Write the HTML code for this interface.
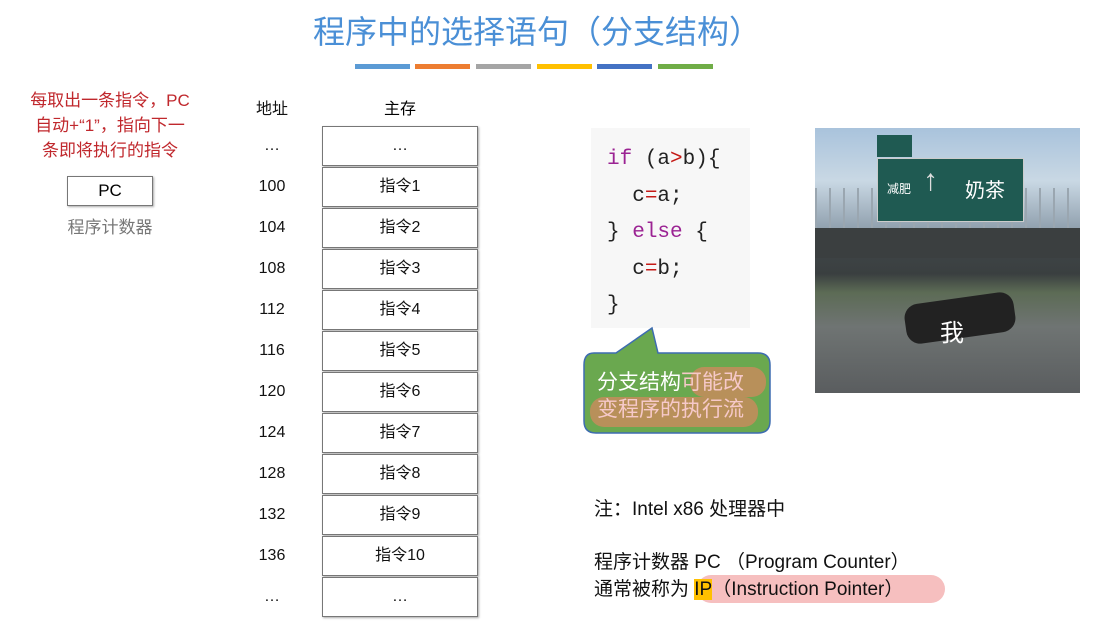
<!DOCTYPE html>
<html><head><meta charset="utf-8"><style>
body{margin:0;width:1120px;height:625px;background:#fff;position:relative;overflow:hidden;font-family:"Liberation Sans","Noto Sans CJK SC",sans-serif;}
.a{position:absolute;}
.cell{position:absolute;left:322px;width:154px;height:38px;border:1px solid #777;box-shadow:1px 1px 2px #aaa;background:#fff;font-size:16px;text-align:center;line-height:38px;color:#111}
.ad{position:absolute;left:250px;width:44px;text-align:center;font-size:16px;color:#111}
.bar{position:absolute;top:64px;height:5px;width:55px}
.code{font-family:"Liberation Mono",monospace;font-size:21px;color:#222;line-height:36.5px}
.k{color:#9b2393}.r{color:#c41a16}
</style></head><body>
<div class="a" style="left:0;width:1074px;top:7px;text-align:center;font-size:32px;color:#4a8fd6">程序中的选择语句（分支结构）</div>
<div class="bar" style="left:355px;background:#5b9bd5"></div>
<div class="bar" style="left:415px;background:#ed7d31"></div>
<div class="bar" style="left:476px;background:#a5a5a5"></div>
<div class="bar" style="left:537px;background:#ffc000"></div>
<div class="bar" style="left:597px;background:#4472c4"></div>
<div class="bar" style="left:658px;background:#70ad47"></div>

<div class="a" style="left:5px;width:210px;top:88px;text-align:center;font-size:17px;line-height:25px;color:#c0282d">每取出一条指令，PC<br>自动+“1”，指向下一<br>条即将执行的指令</div>
<div class="a" style="left:67px;top:176px;width:84px;height:28px;border:1px solid #777;box-shadow:1px 1px 2px #aaa;text-align:center;line-height:28px;font-size:17px">PC</div>
<div class="a" style="left:40px;width:140px;top:213px;text-align:center;font-size:17px;color:#777">程序计数器</div>

<div class="ad" style="top:95px">地址</div>
<div class="a" style="left:322px;width:156px;top:95px;text-align:center;font-size:16px">主存</div>

<div class="ad" style="top:137px">…</div><div class="cell" style="top:126px">…</div>
<div class="ad" style="top:178px">100</div><div class="cell" style="top:167px">指令1</div>
<div class="ad" style="top:219px">104</div><div class="cell" style="top:208px">指令2</div>
<div class="ad" style="top:260px">108</div><div class="cell" style="top:249px">指令3</div>
<div class="ad" style="top:301px">112</div><div class="cell" style="top:290px">指令4</div>
<div class="ad" style="top:342px">116</div><div class="cell" style="top:331px">指令5</div>
<div class="ad" style="top:383px">120</div><div class="cell" style="top:372px">指令6</div>
<div class="ad" style="top:424px">124</div><div class="cell" style="top:413px">指令7</div>
<div class="ad" style="top:465px">128</div><div class="cell" style="top:454px">指令8</div>
<div class="ad" style="top:506px">132</div><div class="cell" style="top:495px">指令9</div>
<div class="ad" style="top:547px">136</div><div class="cell" style="top:536px">指令10</div>
<div class="ad" style="top:588px">…</div><div class="cell" style="top:577px">…</div>

<div class="a code" style="left:591px;top:128px;width:159px;height:200px;background:#f7f7f7;padding:0 0 0 16px;box-sizing:border-box;padding-top:14px">
<div><span class="k">if</span> (a<span class="r">&gt;</span>b){</div>
<div>&nbsp;&nbsp;c<span class="r">=</span>a;</div>
<div>} <span class="k">else</span> {</div>
<div>&nbsp;&nbsp;c<span class="r">=</span>b;</div>
<div>}</div>
</div>
<svg class="a" style="left:580px;top:325px" width="200" height="115">
<path d="M14 28 L36 28 L72 3 L78 28 L178 28 Q190 28 190 40 L190 96 Q190 108 178 108 L16 108 Q4 108 4 96 L4 40 Q4 28 14 28 Z" fill="#6aa84f" stroke="#3d6cb0" stroke-width="1.5"/>
<rect x="110" y="42" width="76" height="30" rx="14" fill="#b8905a"/>
<rect x="10" y="72" width="168" height="30" rx="14" fill="#b8905a"/>
</svg>
<div class="a" style="left:597px;top:369px;font-size:21px;line-height:27px;color:#fff">分支结构<span style="color:#f6c9c9">可能改</span><br><span style="color:#f6c9c9">变程序的执行流</span></div>

<div class="a" style="left:815px;top:128px;width:265px;height:265px;background:linear-gradient(#a9c3dc 0%,#c9d8e4 20%,#8a9aa8 40%,#3f4547 45%,#3a3f40 55%,#5c6b55 62%,#6f7473 75%,#5a5d5f 100%);overflow:hidden">
<div class="a" style="left:0;top:60px;width:265px;height:40px;background:repeating-linear-gradient(90deg,#9aa6b0 0 2px,transparent 2px 14px)"></div>
<div class="a" style="left:0;top:100px;width:265px;height:30px;background:#3b3f40"></div>
<div class="a" style="left:62px;top:30px;width:145px;height:62px;background:#1f5a52;border:1px solid #ccc"></div>
<div class="a" style="left:62px;top:7px;width:35px;height:22px;background:#1f5a52"></div>
<div class="a" style="left:72px;top:52px;font-size:12px;color:#fff">减肥</div>
<div class="a" style="left:108px;top:36px;font-size:30px;color:#ddd">↑</div>
<div class="a" style="left:150px;top:46px;font-size:20px;color:#fff">奶茶</div>
<div class="a" style="left:90px;top:170px;width:110px;height:40px;background:#222;border-radius:14px;transform:rotate(-8deg)"></div>
<div class="a" style="left:125px;top:185px;font-size:24px;color:#fff">我</div>
</div>

<div class="a" style="left:594px;top:494px;font-size:19px;color:#111">注：Intel x86 处理器中</div>
<div class="a" style="left:697px;top:575px;width:248px;height:28px;background:#f6bfbf;border-radius:14px"></div>
<div class="a" style="left:594px;top:549px;font-size:19px;line-height:27px;color:#111">程序计数器 PC （Program Counter）<br>通常被称为 <span style="background:#ffc000">IP</span>（Instruction Pointer）</div>
</body></html>
